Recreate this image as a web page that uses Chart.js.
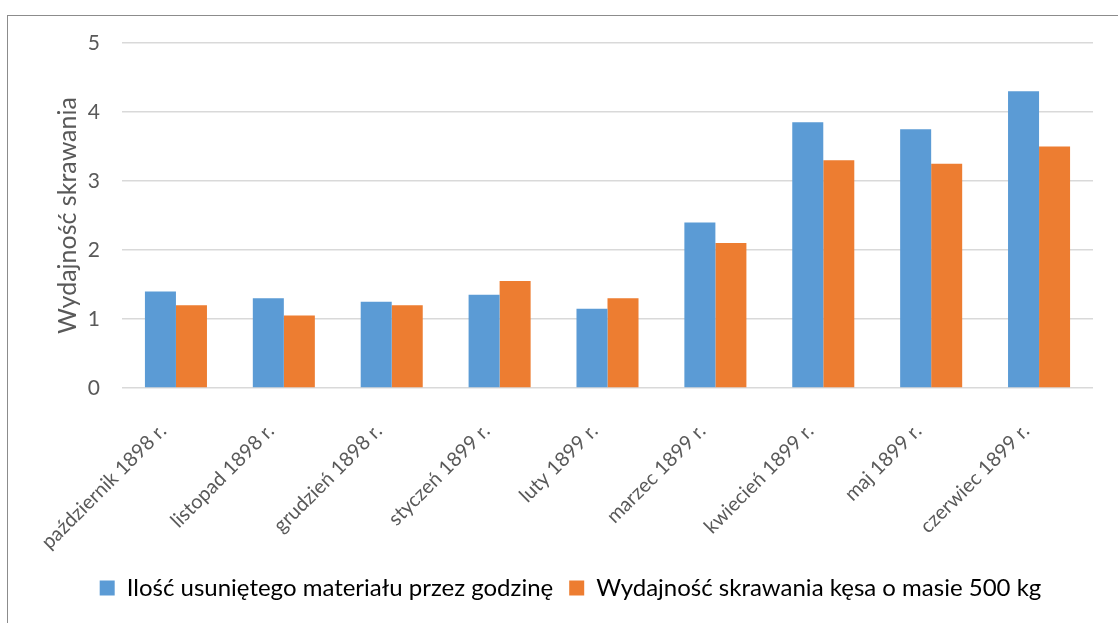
<!DOCTYPE html>
<html>
<head>
<meta charset="utf-8">
<script src="https://cdn.jsdelivr.net/npm/chart.js@4"></script>
<style>
  html, body { margin: 0; padding: 0; background: #fff; }
  #wrap { position: relative; width: 1118px; height: 623px; overflow: hidden; }
  #frame { position: absolute; left: 7px; top: 15px; width: 1200px; height: 700px;
           border-left: 1px solid #8c8c8c; border-top: 1px solid #8c8c8c; }
  canvas { position: absolute; left: 0; top: 0; }
</style>
</head>
<body>
<div id="wrap">
  <div id="frame"></div>
  <canvas id="chart" width="1118" height="623"></canvas>
</div>
<script>
const months = [
  'październik 1898 r.', 'listopad 1898 r.', 'grudzień 1898 r.',
  'styczeń 1899 r.', 'luty 1899 r.', 'marzec 1899 r.',
  'kwiecień 1899 r.', 'maj 1899 r.', 'czerwiec 1899 r.'
];
const removedPerHour = [1.4, 1.3, 1.25, 1.35, 1.15, 2.4, 3.85, 3.75, 4.3];
const billetOutput = [1.2, 1.05, 1.2, 1.55, 1.3, 2.1, 3.3, 3.25, 3.5];
const seriesNames = [
  'Ilość usuniętego materiału przez godzinę',
  'Wydajność skrawania kęsa o masie 500 kg'
];
const yTitle = 'Wydajność skrawania';

const FONT = 'Lato, "Open Sans", sans-serif';

new Chart(document.getElementById('chart'), {
  type: 'bar',
  data: {
    labels: months,
    datasets: [
      { label: seriesNames[0], data: removedPerHour, backgroundColor: '#5B9BD5' },
      { label: seriesNames[1], data: billetOutput, backgroundColor: '#ED7D31' }
    ]
  },
  options: {
    responsive: false,
    animation: false,
    layout: { padding: { left: 48, right: 25, top: 43, bottom: 13 } },
    datasets: { bar: { categoryPercentage: 0.575, barPercentage: 1 } },
    plugins: {
      tooltip: { enabled: false },
      legend: {
        position: 'bottom',
        labels: {
          font: { family: FONT, size: 24 },
          color: '#000',
          boxWidth: 15,
          boxHeight: 15,
          padding: 16
        }
      }
    },
    scales: {
      x: {
        grid: { display: false, drawTicks: false },
        border: { display: false },
        ticks: {
          color: '#595959',
          font: { family: FONT, size: 20 },
          minRotation: 45,
          maxRotation: 45,
          padding: 31,
          labelOffset: -13
        },
        afterFit(scale) { scale.height = 172; }
      },
      y: {
        min: 0,
        max: 5,
        ticks: {
          stepSize: 1,
          color: '#595959',
          font: { family: FONT, size: 21 },
          padding: 22
        },
        grid: { color: '#D9D9D9', lineWidth: 1.5, drawTicks: false },
        border: { display: false },
        title: {
          display: true,
          text: yTitle,
          color: '#595959',
          font: { family: FONT, size: 25 },
          padding: { top: 5, bottom: 0 }
        },
        afterFit(scale) { scale.width = 74; }
      }
    }
  }
});
</script>
</body>
</html>
